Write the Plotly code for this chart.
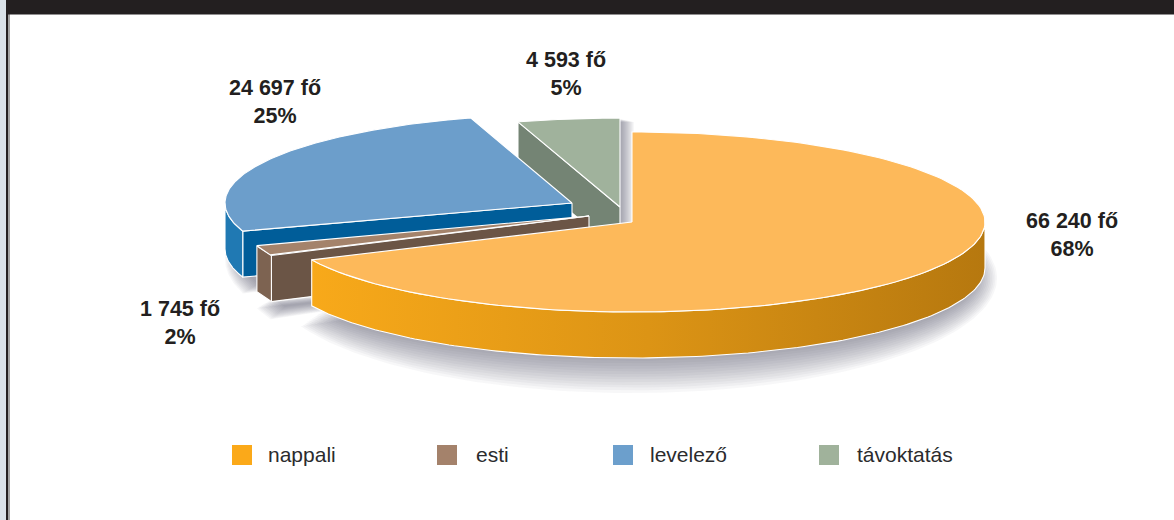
import math
import plotly.graph_objects as go

# Student headcount by form of study
categories = ["nappali", "esti", "levelező", "távoktatás"]
headcounts = [66240, 1745, 24697, 4593]

# Colours of each slice: top, outer wall, radial cut
top_colors = ["#FDB95A", "#A4836B", "#6C9ECB", "#A0B29C"]
wall_colors = ["#F7A81B", "#7D6351", "#2079B3", "#748474"]
cut_colors = ["#DD9515", "#6B5546", "#005D99", "#748474"]
swatch_colors = ["#FBA919", "#A4826B", "#6C9FCC", "#A0B29B"]
INK = "#231F20"

# Projection of the tilted pie, in plot units
PIE_X, PIE_Y = 612, 212
RADIUS_X = [353, 350, 347, 349]
RADIUS_Y = [90, 94, 89, 89]
DEPTH = 46
SLICE_SHIFT = [(20, 10), (-23, 4), (-40, -9), (8, -5)]

LABEL_POS = [(1072, 235), (180, 323), (275, 102), (566, 74)]
SWATCH_X = [242, 447, 623, 829]
LEGEND_TEXT_X = [266, 474, 648, 855]
LEGEND_Y = 455

total = sum(headcounts)
bounds = [0.0]
for v in headcounts:
    bounds.append(bounds[-1] + 2 * math.pi * v / total)


def rim(i, a0, a1, drop=0.0, grow_x=0.0, grow_y=0.0, dx=0.0, dy=0.0, n=160):
    """Points along the rim of slice i from angle a0 to a1 (clockwise from the top)."""
    cx = PIE_X + SLICE_SHIFT[i][0] + dx
    cy = PIE_Y + SLICE_SHIFT[i][1] + drop + dy
    xs, ys = [], []
    for k in range(n + 1):
        a = a0 + (a1 - a0) * k / n
        xs.append(cx + (RADIUS_X[i] + grow_x) * math.sin(a))
        ys.append(cy - (RADIUS_Y[i] + grow_y) * math.cos(a))
    return xs, ys


def apex(i, drop=0.0, dx=0.0, dy=0.0):
    return PIE_X + SLICE_SHIFT[i][0] + dx, PIE_Y + SLICE_SHIFT[i][1] + drop + dy


def sector(i, **kw):
    drop = kw.pop("drop", 0.0)
    dx, dy = kw.get("dx", 0.0), kw.get("dy", 0.0)
    xs, ys = rim(i, bounds[i], bounds[i + 1], drop=drop, **kw)
    ax, ay = apex(i, drop, dx, dy)
    return [ax] + xs + [ax], [ay] + ys + [ay]


fig = go.Figure()


def poly(xs, ys, color=None, line="#FFFFFF", width=1.1, gradient=None):
    kw = dict(fillgradient=gradient) if gradient else dict(fillcolor=color)
    fig.add_trace(go.Scatter(
        x=xs, y=ys, mode="lines", fill="toself",
        line=dict(color=line, width=width),
        hoverinfo="skip", showlegend=False, **kw))


# Soft drop shadow: stacked translucent copies that widen step by step
STEPS = 14
SHADOW = "rgba(72,78,82,0.042)"
for i in range(4):
    for s in range(STEPS):
        t = s / (STEPS - 1)
        if i == 3:
            # The standing slice throws its shadow sideways onto the gap beside it
            xs, ys = rim(i, bounds[i], bounds[i + 1], dx=1 + 13 * t, dy=1 + 3 * t)
            ax, ay = apex(i, drop=DEPTH, dx=1 + 13 * t)
            xs, ys = [ax] + xs + [ax], [ay] + ys + [ay]
        elif i == 0:
            xs, ys = sector(i, drop=DEPTH + 10, grow_x=-10 + 22 * t, grow_y=-10 + 35 * t)
        else:
            xs, ys = sector(i, drop=DEPTH + 10, grow_x=-16 + 16 * t, grow_y=-10 + 30 * t)
        poly(xs, ys, color=SHADOW, line="rgba(0,0,0,0)", width=0)

# Back to front: distance learning, correspondence, evening, day
for i in (3, 2, 1, 0):
    a0, a1 = bounds[i], bounds[i + 1]

    # Radial cut facing the viewer (only where the slice starts on the far left half)
    if i != 0:
        ax, ay = apex(i)
        rx0, ry0 = rim(i, a0, a0, n=1)
        xs = [ax, rx0[0], rx0[0], ax, ax]
        ys = [ay, ry0[0], ry0[0] + DEPTH, ay + DEPTH, ay]
        poly(xs, ys, color=cut_colors[i])

    # Outer wall, the part of the rim that faces forward
    w0 = max(a0, math.pi / 2)
    w1 = min(a1, 3 * math.pi / 2)
    if w1 > w0:
        tx, ty = rim(i, w0, w1)
        bx, by = rim(i, w0, w1, drop=DEPTH)
        xs = tx + bx[::-1] + [tx[0]]
        ys = ty + by[::-1] + [ty[0]]
        if i == 0:
            poly(xs, ys, gradient=dict(
                type="horizontal",
                colorscale=[[0, "#F8A91A"], [0.5, "#DC9415"], [1, "#B6780F"]]))
        else:
            poly(xs, ys, color=wall_colors[i])

    xs, ys = sector(i)
    poly(xs, ys, color=top_colors[i])

# Legend swatches
fig.add_trace(go.Scatter(
    x=SWATCH_X, y=[LEGEND_Y] * 4, mode="markers",
    marker=dict(symbol="square", size=20, color=swatch_colors, line=dict(width=0)),
    hoverinfo="skip", showlegend=False))

annotations = []
for v, (x, y) in zip(headcounts, LABEL_POS):
    count = f"{v:,}".replace(",", " ")
    share = round(100 * v / total)
    annotations.append(dict(
        x=x, y=y, xref="x", yref="y", showarrow=False,
        text=f"<b>{count} fő</b><br><b>{share}%</b>",
        font=dict(family="Liberation Sans", size=21.5, color=INK),
        align="center", xanchor="center", yanchor="middle"))
for name, x in zip(categories, LEGEND_TEXT_X):
    annotations.append(dict(
        x=x, y=LEGEND_Y - 1, xref="x", yref="y", showarrow=False, text=name,
        font=dict(family="Liberation Sans", size=21, color="#2B2B2D"),
        xanchor="left", yanchor="middle"))

# Page furniture: header band and left rule
shapes = [
    dict(type="rect", x0=0, x1=6, y0=0, y1=520, fillcolor="#D9E1E8", line_width=0, layer="below"),
    dict(type="rect", x0=6, x1=8, y0=0, y1=520, fillcolor=INK, line_width=0, layer="below"),
    dict(type="rect", x0=8, x1=10, y0=0, y1=520, fillcolor="#A3A3A3", line_width=0, layer="below"),
    dict(type="rect", x0=6, x1=1174, y0=0, y1=14.5, fillcolor=INK, line_width=0, layer="below"),
]

fig.update_layout(
    width=1174, height=520,
    margin=dict(l=0, r=0, t=0, b=0),
    paper_bgcolor="#FFFFFF", plot_bgcolor="#FFFFFF",
    xaxis=dict(range=[0, 1174], visible=False, fixedrange=True),
    yaxis=dict(range=[520, 0], visible=False, fixedrange=True),
    annotations=annotations, shapes=shapes, showlegend=False,
)
fig.write_html("out.html", config=dict(displayModeBar=False))
